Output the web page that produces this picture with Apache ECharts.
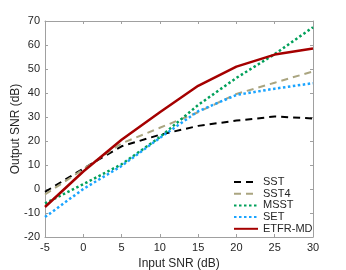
<!DOCTYPE html>
<html><head><meta charset="utf-8">
<script src="https://cdn.jsdelivr.net/npm/echarts@6/dist/echarts.min.js"></script>
<style>html,body{margin:0;padding:0;background:#fff}#c{width:346px;height:270px}</style>
</head><body><div id="c"></div>
<script>
const inputSNR = [-5, 0, 5, 10, 15, 20, 25, 30];
const SST   = [-1.2, 8.5, 17.8, 22.6, 26.3, 28.5, 30.2, 29.4];
const SST4  = [-2.3, 8.2, 19, 25.5, 32, 39.6, 44.3, 49];
const MSST  = [-6, 2, 10.3, 21.6, 35, 46.3, 56.2, 67.4];
const SET   = [-11.7, 0, 9.6, 21.3, 32.4, 39.2, 41.8, 44.1];
const ETFR  = [-7.5, 7.3, 20.5, 32, 43, 51, 56, 58.5];
const names = ['SST', 'SST4', 'MSST', 'SET', 'ETFR-MD'];

const font = 'Liberation Sans, Arial, Helvetica, sans-serif';
const txt = '#262626';
const axisCol = '#a0a0a0';
function pts(v){ return inputSNR.map((x,i)=>[x, v[i]]); }
function mk(name, data, color, width, type){
  return {name, type:'line', data:pts(data), symbol:'none', smooth:false,
    xAxisIndex:0, yAxisIndex:0,
    lineStyle:{color, width, type, cap:'butt'}, itemStyle:{color}, z: name==='ETFR-MD'?5:3};
}
const chart = echarts.init(document.getElementById('c'), null, {renderer:'canvas'});
function ax(extra){
  return Object.assign({
    axisLine:{show:true, onZero:false, lineStyle:{color:axisCol, width:1}},
    axisTick:{show:true, inside:true, length:3, lineStyle:{color:axisCol}},
    splitLine:{show:false}
  }, extra);
}
chart.setOption({
  animation:false,
  backgroundColor:'#fff',
  grid:{left:45, right:33, top:21, bottom:33, containLabel:false, outerBoundsMode:'none'},
  xAxis:[
    ax({type:'value', min:-5, max:30, interval:5, position:'bottom',
      name:'Input SNR (dB)', nameLocation:'middle', nameGap:20,
      nameTextStyle:{fontFamily:font, fontSize:12, color:txt},
      axisLabel:{fontFamily:font, fontSize:11, color:txt, margin:5}}),
    ax({type:'value', min:-5, max:30, interval:5, position:'top',
      axisLabel:{show:false}})
  ],
  yAxis:[
    ax({type:'value', min:-20, max:70, interval:10, position:'left',
      name:'Output SNR (dB)', nameLocation:'middle', nameGap:23, nameMoveOverlap:false,
      nameTextStyle:{fontFamily:font, fontSize:12, color:txt},
      axisLabel:{fontFamily:font, fontSize:11, color:txt, margin:5}}),
    ax({type:'value', min:-20, max:70, interval:10, position:'right',
      axisLabel:{show:false}})
  ],
  legend:{
    data:names, orient:'vertical', left:228, top:171.5,
    itemWidth:24, itemHeight:8, itemGap:0.7,
    itemStyle:{opacity:0},
    textStyle:{fontFamily:font, fontSize:11, lineHeight:11, color:txt}
  },
  series:[
    mk('SST', SST, '#000000', 2, [7,5]),
    mk('SST4', SST4, '#aaa580', 2, [7,5]),
    mk('MSST', MSST, '#00a05a', 2.5, [2.5,2.5]),
    mk('SET', SET, '#1aa4ff', 2.5, [2.5,2.5]),
    mk('ETFR-MD', ETFR, '#a50000', 2.5, 'solid')
  ]
});
</script></body></html>
